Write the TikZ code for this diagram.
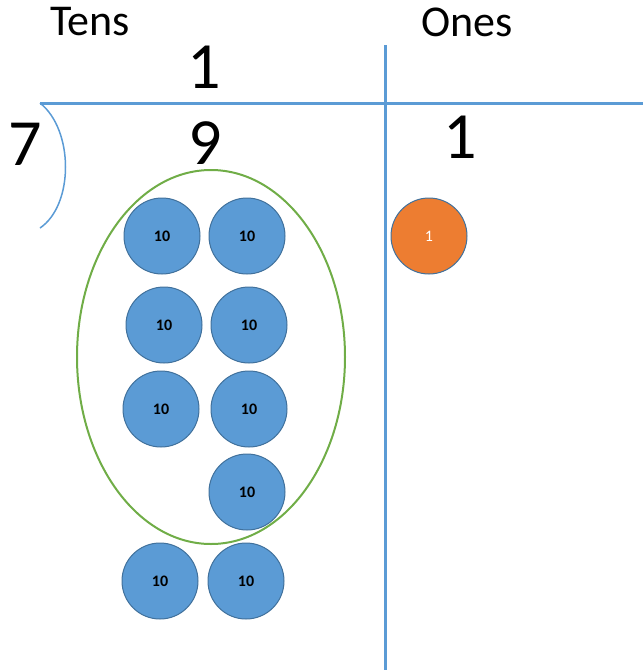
\documentclass[tikz,border=0pt]{standalone}
\usepackage{fontspec}
\setmainfont{Carlito}
\usetikzlibrary{shapes.geometric, positioning}
\definecolor{ruleblue}{RGB}{91,155,213}
\definecolor{chipblue}{RGB}{91,155,213}
\definecolor{chipedge}{RGB}{65,113,156}
\definecolor{chiporange}{RGB}{237,125,49}
\definecolor{groupgreen}{RGB}{112,173,71}
\tikzset{
  heading/.style={inner sep=0pt, font=\fontsize{44}{52}\selectfont},
  digit/.style={inner sep=0pt, font=\fontsize{66}{74}\selectfont},
  tenchip/.style={circle, draw=chipedge, line width=1pt, fill=chipblue, minimum size=76pt, inner sep=0pt, font=\fontsize{16}{18}\selectfont\bfseries},
  onechip/.style={tenchip, fill=chiporange, text=white, font=\fontsize{16}{18}\selectfont}
}
\begin{document}
\begin{tikzpicture}[x=1pt,y=-1pt]
            \useasboundingbox (0,0) rectangle (643,670);
            % Column headings
            \node[heading] (tens) at (90,22) {Tens};
            \node[heading] (ones) at (467,22) {Ones};
            
            % Division lines
            \coordinate (barL) at (40,103);
            \coordinate (barR) at (643,103);
            \coordinate (colT) at (385,45);
            \coordinate (colB) at (385,670);
            \draw[ruleblue, line width=3pt] (barL) -- (barR);
            \draw[ruleblue, line width=3pt] (colT) -- (colB);
            \coordinate (hookB) at (40,228);
            \draw[ruleblue, line width=1.5pt] (barL) .. controls (74,130) and (74,205) .. (hookB);
            
            % Digits
            \node[digit] (quot) at (204,67) {1};
            \node[digit] (divisor) at (25,144) {7};
            \node[digit] (tensdigit) at (205,143) {9};
            \node[digit] (onesdigit) at (460,137) {1};
            
            % Group of seven tens
            \node[draw=groupgreen, line width=2pt, ellipse, minimum width=268pt, minimum height=374pt] (group) at (211,357) {};
            
            % Ten chips
            \node[tenchip] (t1) at (162,236) {10};
            \node[tenchip] (t2) at (247,236) {10};
            \node[tenchip] (t3) at (164,325) {10};
            \node[tenchip] (t4) at (249,325) {10};
            \node[tenchip] (t5) at (161,409) {10};
            \node[tenchip] (t6) at (249,409) {10};
            \node[tenchip] (t7) at (247,492) {10};
            \node[tenchip] (t8) at (160,581) {10};
            \node[tenchip] (t9) at (246,581) {10};
            
            % One chip
            \node[onechip] (o1) at (429,236) {1};
\end{tikzpicture}
\end{document}
